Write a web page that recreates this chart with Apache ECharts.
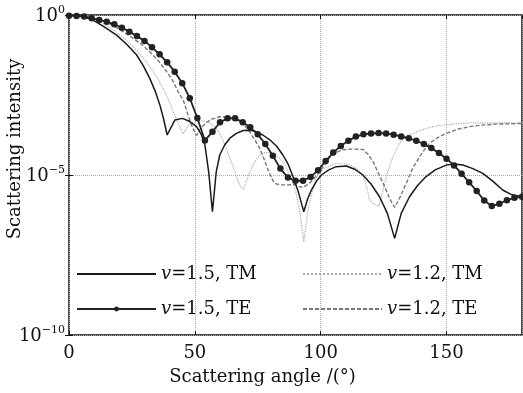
<!DOCTYPE html>
<html>
<head>
<meta charset="utf-8">
<script src="https://cdn.jsdelivr.net/npm/echarts@6/dist/echarts.min.js"></script>
<style>
  html, body { margin: 0; padding: 0; background: #fff; }
  #chart { width: 523px; height: 393px; }
</style>
</head>
<body>
<div id="chart"></div>
<script>
// values; intensities kept as log10 exponents
const tm15Angle = [0, 5, 9.6, 14, 18.9, 23, 26.9, 29.5, 32.1, 34.2, 36.1, 37.6, 39, 42.1, 45.1, 48, 50.7, 52.5, 54, 55.5, 57, 58.5, 59.9, 61.8, 63.9, 66.5, 69.2, 72, 74.5, 77, 79.8, 82.5, 85, 87, 89, 91.2, 93.3, 94.8, 96.3, 98.3, 100.3, 103.2, 106.2, 110.2, 113.5, 116.8, 120, 123.4, 126.5, 129.4, 132, 135.3, 138.5, 141.9, 145.5, 149.9, 153, 156.5, 160.5, 164.4, 168.5, 172.3, 176, 180]
const tm15Exp = [0, -0.04, -0.16, -0.37, -0.63, -0.92, -1.25, -1.58, -1.98, -2.37, -2.81, -3.25, -3.75, -3.28, -3.23, -3.33, -3.49, -3.72, -4.06, -4.9, -6.15, -4.9, -4.375, -4.07, -3.85, -3.7, -3.61, -3.6, -3.65, -3.75, -3.9, -4.1, -4.375, -4.65, -5.05, -5.55, -6.15, -5.75, -5.47, -5.2, -5.0, -4.84, -4.74, -4.72, -4.82, -5.0, -5.28, -5.68, -6.2, -6.98, -6.2, -5.68, -5.33, -5.05, -4.84, -4.69, -4.66, -4.69, -4.8, -4.95, -5.2, -5.47, -5.62, -5.68]

const te15Angle = [0, 3, 6, 9, 12, 15, 18, 21, 24, 27, 30, 33, 36, 39, 42, 45, 48, 51, 54, 57, 60, 63, 66, 69, 72, 75, 78, 81, 84, 87, 90, 93, 96, 99, 102, 105, 108, 111, 114, 117, 120, 123, 126, 129, 132, 135, 138, 141, 144, 147, 150, 153, 156, 159, 162, 165, 168, 171, 174, 177, 180]
const te15Exp = [-0.02, -0.03, -0.05, -0.10, -0.16, -0.21, -0.29, -0.40, -0.52, -0.66, -0.81, -1.01, -1.23, -1.48, -1.77, -2.13, -2.60, -3.22, -3.92, -3.65, -3.35, -3.23, -3.23, -3.35, -3.51, -3.73, -4.03, -4.40, -4.80, -5.08, -5.18, -5.18, -5.06, -4.85, -4.56, -4.30, -4.09, -3.93, -3.80, -3.73, -3.70, -3.69, -3.70, -3.74, -3.80, -3.85, -3.93, -4.03, -4.16, -4.31, -4.49, -4.70, -4.96, -5.23, -5.50, -5.80, -5.97, -5.90, -5.79, -5.71, -5.68]

const tm12Angle = [0, 5, 9.6, 13.5, 17.6, 21.5, 25.5, 29, 32.1, 35, 37.4, 39.5, 41.4, 43.5, 45.4, 47, 48.7, 52, 54, 56, 58, 59.9, 61.5, 63.2, 65, 66.5, 68, 69.2, 70.5, 71.8, 73.8, 75.8, 77.8, 79.8, 81.8, 83.7, 85.5, 87, 88.8, 90.3, 91.8, 93.3, 95, 96.7, 98.3, 100.3, 102.3, 106.2, 108.8, 111.5, 114.2, 116, 117.5, 118.5, 119.4, 121, 123.1, 124.2, 125.4, 126.7, 128, 129.6, 131.3, 133.8, 136.6, 140, 143.3, 147, 151.2, 155.5, 160.4, 169.7, 180]
const tm12Exp = [0, -0.03, -0.10, -0.26, -0.47, -0.71, -0.99, -1.3, -1.61, -1.95, -2.29, -2.65, -3.02, -3.4, -3.72, -3.5, -3.38, -3.3, -3.32, -3.38, -3.5, -3.70, -3.98, -4.32, -4.7, -5.05, -5.35, -5.45, -5.2, -4.9, -4.58, -4.375, -4.3, -4.30, -4.36, -4.48, -4.65, -4.9, -5.2, -5.57, -6.2, -7.08, -6.09, -5.5, -5.05, -4.86, -4.75, -4.64, -4.64, -4.68, -4.79, -4.93, -5.16, -5.45, -5.78, -5.9, -5.97, -5.65, -5.26, -4.9, -4.58, -4.28, -4.01, -3.82, -3.70, -3.6, -3.51, -3.46, -3.42, -3.39, -3.37, -3.37, -3.37]

const te12Angle = [0, 5, 9.6, 13.5, 17.6, 21.5, 25.5, 29, 32.1, 35.5, 38.8, 41.2, 43.4, 45.5, 47.3, 49, 50.7, 52.5, 54.6, 56.5, 59.9, 63.9, 67.9, 70, 71.8, 73.8, 75.8, 77.5, 79.1, 80.5, 81.7, 84, 86.3, 89.7, 91.5, 93, 94.8, 96.3, 98, 99.6, 101.5, 103.6, 106, 108.9, 112, 116.8, 118.8, 120.8, 123, 125.4, 127.5, 129.4, 131.5, 134, 136.5, 139.3, 141.3, 143.3, 146.5, 149.9, 154.5, 159.1, 164, 169.7, 175, 180]
const te12Exp = [0, -0.03, -0.10, -0.2, -0.33, -0.52, -0.73, -0.93, -1.15, -1.43, -1.77, -2.05, -2.40, -2.68, -3.13, -3.5, -3.76, -3.52, -3.36, -3.26, -3.18, -3.20, -3.33, -3.47, -3.65, -3.9, -4.17, -4.5, -4.84, -5.1, -5.26, -5.31, -5.31, -5.30, -5.36, -5.39, -5.3, -5.2, -5.05, -4.88, -4.7, -4.45, -4.3, -4.21, -4.19, -4.20, -4.35, -4.58, -4.95, -5.36, -5.75, -6.01, -5.7, -5.26, -4.8, -4.43, -4.2, -4.01, -3.83, -3.70, -3.57, -3.49, -3.44, -3.41, -3.40, -3.39]

const seriesNames = ['v=1.5, TM', 'v=1.5, TE', 'v=1.2, TM', 'v=1.2, TE']

const toPairs = (angles, exps) => angles.map((a, i) => [a, Math.pow(10, exps[i])])

const serif = 'DejaVu Serif'
const ink = '#111'

const chart = echarts.init(document.getElementById('chart'))

const legendText = {
  fontFamily: serif,
  fontSize: 18,
  color: ink,
  lineHeight: 22,
  rich: {
    i: { fontFamily: serif, fontSize: 18, fontStyle: 'italic', color: ink },
    n: { fontFamily: serif, fontSize: 18, color: ink }
  }
}
const legendFormatter = name => '{i|v}{n|' + name.slice(1) + '}'
// lines without markers: hide the legend dot
const noDot = name => ({ name, itemStyle: { opacity: 0 } })

const option = {
  animation: false,
  backgroundColor: '#fff',
  grid: {
    left: 69,
    right: 1,
    top: 15,
    bottom: 58,
    outerBoundsMode: 'none',
    containLabel: false,
    show: true,
    borderColor: ink,
    borderWidth: 1.5
  },
  legend: [
    {
      data: [noDot(seriesNames[0]), seriesNames[1]],
      orient: 'vertical',
      left: 71,
      top: 258,
      itemWidth: 79,
      itemHeight: 6,
      itemGap: 13,
      textStyle: legendText,
      formatter: legendFormatter
    },
    {
      data: [noDot(seriesNames[2]), noDot(seriesNames[3])],
      orient: 'vertical',
      left: 297,
      top: 258,
      itemWidth: 79,
      itemHeight: 6,
      itemGap: 13,
      textStyle: legendText,
      formatter: legendFormatter
    }
  ],
  xAxis: [
    {
      type: 'value',
      min: 0,
      max: 180,
      interval: 50,
      name: 'Scattering angle /(°)',
      nameLocation: 'middle',
      nameGap: 33,
      nameMoveOverlap: false,
      nameTextStyle: { fontFamily: serif, fontSize: 18, color: ink, padding: [0, 66, 0, 0] },
      axisLine: { show: false },
      axisTick: { show: true, inside: true, length: 4, lineStyle: { color: ink } },
      axisLabel: { fontFamily: serif, fontSize: 18, color: ink, margin: 9, showMaxLabel: false },
      splitLine: { show: true, lineStyle: { color: '#aaa', type: 'dotted', width: 1 } }
    },
    {
      type: 'value',
      position: 'top',
      min: 0,
      max: 180,
      interval: 50,
      axisLine: { show: false },
      axisTick: { show: true, inside: true, length: 4, lineStyle: { color: ink } },
      axisLabel: { show: false },
      splitLine: { show: false }
    }
  ],
  yAxis: [
    {
      type: 'log',
      logBase: 10,
      min: 1e-10,
      max: 1,
      interval: 5,
      name: 'Scattering intensity',
      nameLocation: 'middle',
      nameRotate: 90,
      nameGap: 45,
      nameMoveOverlap: false,
      nameTextStyle: { fontFamily: serif, fontSize: 18, color: ink, padding: [0, 0, 0, 52] },
      axisLine: { show: false },
      axisTick: { show: true, inside: true, length: 4, lineStyle: { color: ink } },
      axisLabel: {
        margin: 4,
        formatter: v => {
          const e = Math.round(Math.log10(v))
          return '{b|10}{s|' + (e < 0 ? '−' + (-e) : e) + '}'
        },
        rich: {
          b: { fontFamily: serif, fontSize: 18, color: ink, verticalAlign: 'bottom' },
          s: { fontFamily: serif, fontSize: 11, color: ink, verticalAlign: 'bottom', padding: [0, 0, 9, 0] }
        }
      },
      splitLine: { show: true, lineStyle: { color: '#aaa', type: 'dotted', width: 1 } }
    },
    {
      type: 'log',
      logBase: 10,
      min: 1e-10,
      max: 1,
      interval: 5,
      position: 'right',
      axisLine: { show: false },
      axisTick: { show: true, inside: true, length: 4, lineStyle: { color: ink } },
      axisLabel: { show: false },
      splitLine: { show: false }
    }
  ],
  series: [
    {
      name: seriesNames[0],
      type: 'line',
      data: toPairs(tm15Angle, tm15Exp),
      symbol: 'none',
      lineStyle: { color: '#1a1a1a', width: 1.5, type: 'solid' },
      itemStyle: { color: '#1a1a1a' },
      z: 4
    },
    {
      name: seriesNames[1],
      type: 'line',
      data: toPairs(te15Angle, te15Exp),
      symbol: 'circle',
      symbolSize: 6.5,
      lineStyle: { color: '#222', width: 1.8, type: 'solid' },
      itemStyle: { color: '#222', borderWidth: 0 },
      z: 5
    },
    {
      name: seriesNames[2],
      type: 'line',
      data: toPairs(tm12Angle, tm12Exp),
      symbol: 'none',
      lineStyle: { color: '#aaa', width: 1.2, type: 'dotted' },
      itemStyle: { color: '#aaa' },
      z: 2
    },
    {
      name: seriesNames[3],
      type: 'line',
      data: toPairs(te12Angle, te12Exp),
      symbol: 'none',
      lineStyle: { color: '#777', width: 1.4, type: [4, 2] },
      itemStyle: { color: '#777' },
      z: 3
    }
  ]
}

chart.setOption(option)
</script>
</body>
</html>
